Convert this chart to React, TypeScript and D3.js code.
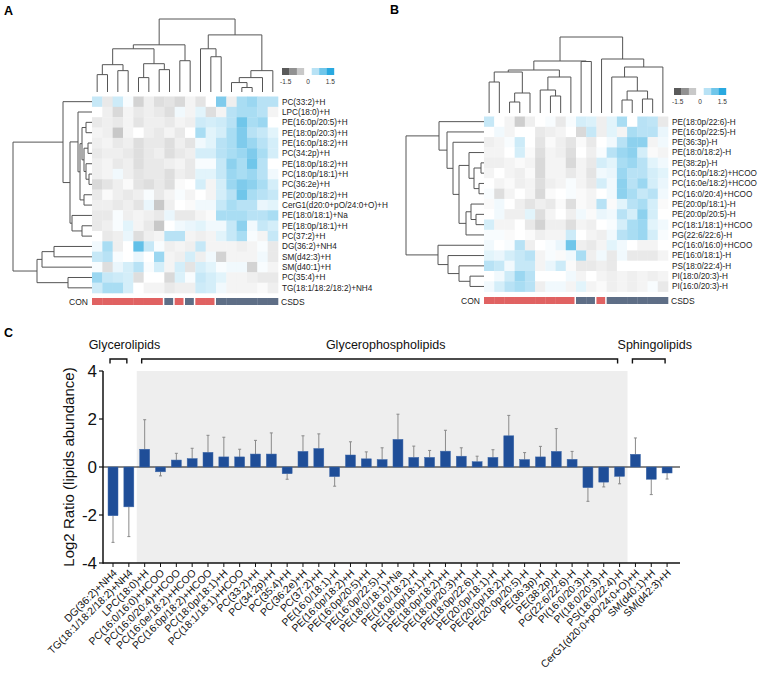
import React from 'react';
import * as d3 from 'd3';

type Tree = number | [number, Tree, Tree];

const FONT = '"Liberation Sans", Arial, Helvetica, sans-serif';

// ---------------- Panel A data ----------------
const rowLabelsA = [
  'PC(33:2)+H', 'LPC(18:0)+H', 'PE(16:0p/20:5)+H', 'PE(18:0p/20:3)+H', 'PE(16:0p/18:2)+H',
  'PC(34:2p)+H', 'PE(18:0p/18:2)+H', 'PC(18:0p/18:1)+H', 'PC(36:2e)+H', 'PE(20:0p/18:2)+H',
  'CerG1(d20:0+pO/24:0+O)+H', 'PE(18:0/18:1)+Na', 'PE(18:0p/18:1)+H', 'PC(37:2)+H',
  'DG(36:2)+NH4', 'SM(d42:3)+H', 'SM(d40:1)+H', 'PC(35:4)+H', 'TG(18:1/18:2/18:2)+NH4',
];
const groupsA = ['CON', 'CON', 'CON', 'CON', 'CON', 'CON', 'CON', 'CSDS', 'CON', 'CSDS', 'CON', 'CON',
  'CSDS', 'CSDS', 'CSDS', 'CSDS', 'CSDS', 'CSDS'];
const heatA = [
  [0.4, -0.2, 0.35, 0.05, -0.4, -0.15, -0.3, -0.25, -0.35, -0.1, -0.25, 0, 0.9, -0.15, 0.6, 0.7, 0.5, 0.5],
  [0, -0.15, -0.35, -0.1, -0.2, -0.15, -0.2, -0.3, 0.1, -0.1, 0.2, -0.3, -0.1, 0.5, 0.6, 0.6, 0.5, -0.1],
  [-0.2, -0.15, -0.2, -0.1, -0.25, -0.15, -0.15, -0.2, -0.1, -0.15, 0.35, 0.3, 0.35, 0.5, 1.0, 0.6, 0.7, 0],
  [-0.1, -0.15, -0.5, -0.1, 0, -0.15, -0.2, -0.1, -0.2, 0, 0.6, 0.2, 0.3, 0.6, 0.9, 0.5, 0.4, 0.2],
  [-0.15, -0.1, -0.2, -0.15, -0.3, -0.2, -0.2, -0.3, -0.15, -0.25, 0.1, 0.2, 0.5, 0.6, 0.9, 0.7, 0.5, 0.3],
  [-0.2, -0.15, -0.15, -0.2, -0.3, -0.2, -0.15, -0.3, -0.2, -0.15, 0.3, 0.3, 0.5, 0.6, 0.7, 0.9, 0.6, 0.3],
  [-0.15, -0.1, -0.2, -0.15, -0.3, -0.2, -0.2, -0.15, -0.1, -0.2, 0.05, 0.05, 0.4, 0.8, 0.6, 1.0, 0.5, 0],
  [-0.15, -0.1, 0.1, -0.15, -0.25, -0.2, -0.2, -0.3, -0.15, -0.2, 0.2, 0.2, 0.4, 0.7, 0.6, 0.7, 0.5, 0.1],
  [-0.35, -0.25, -0.15, -0.05, -0.25, -0.3, -0.2, -0.3, -0.05, 0, 0.3, -0.1, 0.3, 0.7, 0.9, 0.8, 0.6, 0.3],
  [-0.2, -0.05, -0.15, -0.2, -0.15, 0.05, -0.2, -0.1, 0.05, -0.1, 0, -0.1, 0.3, 0.5, 1.0, 0.6, 0.5, 0.4],
  [-0.15, -0.15, -0.2, -0.15, -0.25, 0.15, -0.5, -0.15, 0, -0.05, 0.1, 0.1, 0.4, 0.6, 0.5, 0.5, 0.15, 0.2],
  [-0.2, -0.2, 0.05, -0.15, -0.1, -0.15, -0.2, 0.15, -0.2, -0.2, -0.1, -0.05, 0.6, 0.6, 0.6, 0.5, 0.5, 0.6],
  [-0.2, -0.15, 0.05, 0.2, -0.1, -0.2, -0.5, 0, 0.1, 0.15, 0.2, 0.1, 0.1, 0.4, 0.8, 0.1, 0.4, 0.3],
  [0, -0.2, -0.15, 0.15, -0.3, -0.15, -0.1, 0.5, 0.5, -0.1, -0.15, -0.1, 0.2, 0.4, 0.6, 0.05, -0.1, 0.4],
  [0.1, 0.6, -0.15, 0, 1.1, 0.4, 0.05, -0.15, -0.1, -0.15, 0.4, -0.1, -0.1, -0.1, -0.15, -0.1, 0.05, -0.2],
  [0.4, 0.5, 0.05, 0, 0.15, 0, 0.7, -0.1, -0.15, 0.3, -0.15, 0.1, -0.4, -0.1, -0.1, -0.1, 0.1, -0.2],
  [0.05, -0.3, 0.15, 0.3, 0.5, 0.05, 0.3, -0.1, 0.3, -0.25, 0.3, 0.2, 0.05, 0.1, 0.1, -0.4, 0.05, -0.1],
  [0.7, 0.4, 0.35, 0.3, -0.3, 0, 0, -0.35, 0.25, 0.05, 0.4, 0.3, 0.2, -0.1, -0.1, -0.15, -0.2, -0.2],
  [0.35, 0.6, 0.6, 0.3, 0, -0.1, -0.1, -0.2, -0.15, -0.15, 0.35, 0.3, 0.1, -0.1, -0.1, -0.1, -0.05, -0.15],
];
const colTreeA: Tree = [73.5,
  [47.5,
    [43.5, [27.5, [17.5, 0, 1], [21.5, 2, 3]], [28.5, [14.5, 4, 5], [22.5, 6, 7]]],
    [31.5, 8, 9]],
  [57.5,
    [43.5, 10, [35.5, 11, 12]],
    [21.5, [14.5, [9.5, 13, [4.5, 14, 15]], 16], 17]]];
const rowTreeA: Tree = [79,
  [29, 0, [22, [14, 1, [12, [10, [6, 2, 3], [8, [4, 4, 5], [6, 6, [3, 7, 8]]]], [8, 9, 10]]], [20, 11, [10, 12, 13]]]],
  [55, [50, [38, 14, 15], 16], [24, 17, 18]]];

// ---------------- Panel B data ----------------
const rowLabelsB = [
  'PE(18:0p/22:6)-H', 'PE(16:0p/22:5)-H', 'PE(36:3p)-H', 'PE(18:0/18:2)-H', 'PE(38:2p)-H',
  'PC(16:0p/18:2)+HCOO', 'PC(16:0e/18:2)+HCOO', 'PC(16:0/20:4)+HCOO', 'PE(20:0p/18:1)-H',
  'PE(20:0p/20:5)-H', 'PC(18:1/18:1)+HCOO', 'PG(22:6/22:6)-H', 'PC(16:0/16:0)+HCOO',
  'PE(16:0/18:1)-H', 'PS(18:0/22:4)-H', 'PI(18:0/20:3)-H', 'PI(16:0/20:3)-H',
];
const groupsB = ['CON', 'CON', 'CON', 'CON', 'CON', 'CON', 'CON', 'CON', 'CON', 'CSDS', 'CSDS', 'CON',
  'CSDS', 'CSDS', 'CSDS', 'CSDS', 'CSDS', 'CSDS'];
const heatB = [
  [0.4, 0, -0.1, -0.45, -0.15, 0, 0.05, -0.2, 0.05, 0.3, 0.25, -0.15, 0.2, 0.6, 0, 0.5, 0.45, -0.2],
  [0, 0.1, -0.1, 0, 0, -0.2, -0.15, -0.1, 0, -0.35, 0.4, -0.15, 0.2, -0.1, 0.6, 0.5, 0.5, 0.15],
  [-0.15, -0.1, 0.05, 0.35, 0, -0.25, -0.05, -0.15, -0.25, -0.05, -0.2, 0, 0.1, 0.5, 0.8, 0.8, -0.1, 0.1],
  [-0.1, -0.1, 0, 0.3, -0.05, -0.3, -0.1, -0.15, -0.3, 0, -0.15, 0.05, 0.5, 0.7, 0.8, 0.3, -0.05, -0.1],
  [-0.15, -0.15, -0.1, -0.05, -0.1, -0.35, -0.1, -0.1, -0.35, -0.1, -0.2, 0.3, 0.2, 0.6, 0.7, 0.5, 0.2, 0.1],
  [-0.1, 0, -0.1, -0.15, -0.05, -0.35, -0.1, -0.1, -0.2, -0.1, -0.25, 0.1, 0.15, 0.7, 0.5, 0.5, 0.3, 0.2],
  [0, -0.1, -0.05, -0.15, -0.1, -0.3, -0.15, -0.1, 0.05, -0.1, -0.2, 0.3, 0.1, 0.8, 0.5, 0.7, 0.3, 0.15],
  [0.05, -0.3, -0.1, 0, -0.1, -0.35, -0.05, 0, 0.05, -0.05, -0.1, 0, 0.1, 0.8, 0.6, 0.4, 0.5, 0.1],
  [-0.05, 0.1, 0, -0.15, -0.25, -0.15, -0.2, -0.05, -0.3, -0.05, -0.1, 0.5, -0.05, 0.2, 0.5, 0.6, 0.3, -0.05],
  [0, 0.1, -0.15, -0.15, 0.2, -0.3, -0.1, 0, -0.15, 0.1, -0.05, 0.15, 0.1, 0.5, 0.3, 0.8, 0.3, 0],
  [0.3, -0.1, -0.1, 0, -0.2, -0.4, -0.15, -0.15, -0.3, -0.1, -0.15, 0, 0.05, 0.3, 0.6, 0.7, 0.2, 0.1],
  [0.05, 0.05, -0.05, 0, -0.05, -0.15, -0.1, -0.1, 0.35, 0, -0.1, -0.15, 0.1, 0.5, 0.6, 0.7, 0.3, 0.05],
  [0.1, 0, 0.05, 0.5, -0.15, 0, 0.05, 0.15, 1.0, -0.15, -0.2, -0.1, 0.2, 0.1, 0, -0.1, -0.1, 0],
  [0.2, 0.15, 0.3, 0.4, 0.5, -0.1, 0.05, -0.05, 0.1, 0.6, -0.15, 0.1, -0.2, 0.1, -0.2, -0.2, -0.2, -0.1],
  [0.5, 0.4, 0.1, 0.4, 0.4, -0.1, 0.15, 0.35, -0.05, -0.2, -0.2, -0.15, -0.2, 0, 0, 0, 0, 0],
  [0, 0.1, 0.35, 0.7, 0.5, 0, 0, 0, 0.1, -0.1, 0, -0.1, -0.15, -0.1, -0.15, -0.1, -0.15, -0.1],
  [0.1, 0.3, 0.5, 0.6, 0.5, -0.15, 0.1, 0.1, -0.1, 0.2, -0.1, -0.05, -0.15, -0.1, -0.15, -0.1, 0.05, -0.2],
];
const colTreeB: Tree = [76,
  [52, [43, [41, [31, 0, 1], [20, [11, 2, 3], 4]], [36, [23, 5, [17, 6, 7]], 8]], [51.5, 9, 10]],
  [54, 11, [46, [36, 12, [22, [13, 13, 14], [14, 15, 16]]], 17]]];
const rowTreeB: Tree = [78,
  [45, 0, [37, 1, [31, 2, [25, [15, 3, [10, [3, 4, 5], [5, 6, 7]]], [18, [13, 8, [8, 9, 10]], 11]]]]],
  [46, 12, [36, 13, [25, 14, [14, 15, 16]]]]];

const legendValues = [-1.5, -1, -0.5, 0, 0.5, 1, 1.5];
const legendTicks = [-1.5, 0, 1.5];

// ---------------- Panel C data ----------------
const lipids = [
  'DG(36:2)+NH4', 'TG(18:1/18:2/18:2)+NH4', 'LPC(18:0)+H', 'PC(16:0/16:0)+HCOO', 'PC(16:0/20:4)+HCOO',
  'PC(16:0e/18:2)+HCOO', 'PC(16:0p/18:2)+HCOO', 'PC(18:0p/18:1)+H', 'PC(18:1/18:1)+HCOO', 'PC(33:2)+H',
  'PC(34:2p)+H', 'PC(35:4)+H', 'PC(36:2e)+H', 'PC(37:2)+H', 'PE(16:0/18:1)-H', 'PE(16:0p/18:2)+H',
  'PE(16:0p/20:5)+H', 'PE(16:0p/22:5)-H', 'PE(18:0/18:1)+Na', 'PE(18:0/18:2)-H', 'PE(18:0p/18:1)+H',
  'PE(18:0p/18:2)+H', 'PE(18:0p/20:3)+H', 'PE(18:0p/22:6)-H', 'PE(20:0p/18:1)-H', 'PE(20:0p/18:2)+H',
  'PE(20:0p/20:5)-H', 'PE(36:3p)-H', 'PE(38:2p)-H', 'PG(22:6/22:6)-H', 'PI(16:0/20:3)-H',
  'PI(18:0/20:3)-H', 'PS(18:0/22:4)-H', 'CerG1(d20:0+pO/24:0+O)+H', 'SM(d40:1)+H', 'SM(d42:3)+H',
];
const log2Ratio = [
  -2.03, -1.66, 0.74, -0.2, 0.29, 0.35, 0.61, 0.42, 0.42, 0.54, 0.54, -0.28, 0.65, 0.77, -0.4, 0.5,
  0.34, 0.31, 1.15, 0.4, 0.4, 0.66, 0.45, 0.22, 0.4, 1.3, 0.31, 0.42, 0.65, 0.32, -0.86, -0.63, -0.39,
  0.53, -0.51, -0.25,
];
const errorTip = [
  -3.14, -2.9, 1.97, -0.37, 0.57, 0.78, 1.32, 1.24, 0.74, 1.11, 1.42, -0.51, 1.3, 1.38, -0.8, 1.05,
  0.63, 0.8, 2.2, 0.87, 0.69, 1.53, 0.8, 0.45, 0.72, 2.15, 0.6, 0.86, 1.6, 0.65, -1.43, -0.83, -0.7,
  1.21, -1.15, -0.5,
];
const classNames = ['Glycerolipids', 'Glycerophospholipids', 'Sphingolipids'];
const classFirst = [0, 2, 33];
const classLast = [1, 32, 35];
const shadedClass = 1;
const yTicks = [-4, -2, 0, 2, 4];

const color = d3.scaleLinear<string>().domain([-1.5, 0, 1.5]).range(['#5a5a5a', '#ffffff', '#29a9e0']).clamp(true);
const groupColor: Record<string, string> = { CON: '#e06262', CSDS: '#5e6e86' };

function layoutTree(t: Tree) {
  const root = d3.hierarchy<Tree>(t, (d) => (Array.isArray(d) ? [d[1], d[2]] : null));
  root.eachAfter((n: any) => {
    if (n.children) {
      n.pos = d3.mean(n.children, (c: any) => c.pos);
      n.h = (n.data as any)[0];
    } else {
      n.pos = n.data as number;
      n.h = 0;
    }
  });
  return root as any;
}

function dendroPaths(t: Tree, posScale: (v: number) => number, hScale: (v: number) => number, vertical: boolean) {
  const root = layoutTree(t);
  const paths: string[] = [];
  root.each((n: any) => {
    if (!n.children) return;
    const [a, b] = n.children;
    const p = (pos: number, h: number) => (vertical ? `${posScale(pos)},${hScale(h)}` : `${hScale(h)},${posScale(pos)}`);
    paths.push(`M${p(a.pos, a.h)}L${p(a.pos, n.h)}L${p(b.pos, n.h)}L${p(b.pos, b.h)}`);
  });
  return paths;
}

interface HeatProps {
  label: string; labelX: number; labelY: number;
  values: number[][]; rows: string[]; groups: string[]; colTree: Tree; rowTree: Tree;
  left: number; right: number; top: number; bottom: number;
  colLeafY: number; colRootY: number; rowRootX: number;
  groupY: number; legendX: number; legendY: number;
}

function Heatmap(p: HeatProps) {
  const nCols = p.values[0].length;
  const nRows = p.values.length;
  const xb = d3.scaleBand<number>().domain(d3.range(nCols)).range([p.left, p.right]);
  const yb = d3.scaleBand<number>().domain(d3.range(nRows)).range([p.top, p.bottom]);
  const colPos = d3.scaleLinear().domain([-0.5, nCols - 0.5]).range([p.left, p.right]);
  const rowPos = d3.scaleLinear().domain([-0.5, nRows - 0.5]).range([p.top, p.bottom]);
  const colRootH = (p.colTree as any)[0];
  const rowRootH = (p.rowTree as any)[0];
  const colH = d3.scaleLinear().domain([0, colRootH]).range([p.colLeafY, p.colRootY]);
  const rowH = d3.scaleLinear().domain([0, rowRootH]).range([p.left, p.rowRootX]);
  const colPaths = dendroPaths(p.colTree, colPos, colH, true);
  const rowPaths = dendroPaths(p.rowTree, rowPos, rowH, false);
  const lw = 52 / legendValues.length;
  const lx = d3.scaleBand<number>().domain(legendValues).range([p.legendX, p.legendX + 52]);
  return (
    <g fontFamily={FONT}>
      <text x={p.labelX} y={p.labelY} fontSize={12.5} fontWeight="bold">{p.label}</text>
      {p.values.map((row, r) =>
        row.map((v, c) => (
          <rect key={`${r}-${c}`} x={xb(c)} y={yb(r)} width={xb.bandwidth() + 0.3} height={yb.bandwidth() + 0.3} fill={color(v)} />
        ))
      )}
      {colPaths.map((d, i) => <path key={`c${i}`} d={d} fill="none" stroke="#555" strokeWidth={1} />)}
      {rowPaths.map((d, i) => <path key={`r${i}`} d={d} fill="none" stroke="#555" strokeWidth={1} />)}
      {p.rows.map((t, r) => (
        <text key={t} x={p.right + 4} y={(yb(r) as number) + yb.bandwidth() / 2} dy="0.35em" fontSize={8.2} fill="#222">{t}</text>
      ))}
      {p.groups.map((g, c) => {
        const gap = c < nCols - 1 && p.groups[c + 1] !== g ? 1.5 : 0;
        return <rect key={`g${c}`} x={xb(c)} y={p.groupY} width={xb.bandwidth() - gap + (gap ? 0 : 0.3)} height={7} fill={groupColor[g]} />;
      })}
      <text x={p.left - 4} y={p.groupY + 7} fontSize={8.5} textAnchor="end" fill="#222">CON</text>
      <text x={p.right + 3} y={p.groupY + 7} fontSize={8.5} fill="#222">CSDS</text>
      {legendValues.map((v) => (
        <rect key={`l${v}`} x={lx(v)} y={p.legendY} width={lw + 0.2} height={7} fill={color(v)} />
      ))}
      {legendTicks.map((v) => (
        <text key={`lt${v}`} x={(lx(v) as number) + lw / 2} y={p.legendY + 16} fontSize={6.5} textAnchor="middle" fill="#333">{v}</text>
      ))}
    </g>
  );
}

function BarChart() {
  const x = d3.scaleBand<string>().domain(lipids).range([105.1, 675]).paddingInner(0.37).paddingOuter(0.185);
  const y = d3.scaleLinear().domain([-4, 4]).range([563, 371]);
  const cx = (i: number) => (x(lipids[i]) as number) + x.bandwidth() / 2;
  const step = x.step();
  const axisX = 103;
  const axisEnd = 680;
  return (
    <g fontFamily={FONT}>
      <text x={4} y={337} fontSize={12.5} fontWeight="bold">C</text>
      <rect x={cx(classFirst[shadedClass]) - step / 2} y={y(4)} width={cx(classLast[shadedClass]) - cx(classFirst[shadedClass]) + step}
        height={y(-4) - y(4)} fill="#eeeeee" />
      {classNames.map((name, k) => {
        const x0 = cx(classFirst[k]) - 3;
        const x1 = cx(classLast[k]) - 2;
        return (
          <g key={name}>
            <path d={`M${x0},363.5V359H${x1}V363.5`} fill="none" stroke="#111" strokeWidth={1.4} />
            <text x={(x0 + x1) / 2 + 6} y={349} fontSize={12.5} textAnchor="middle" fill="#111">{name}</text>
          </g>
        );
      })}
      <line x1={axisX} x2={axisEnd} y1={y(0)} y2={y(0)} stroke="#111" strokeWidth={1} />
      {log2Ratio.map((v, i) => (
        <g key={lipids[i]}>
          <line x1={cx(i)} x2={cx(i)} y1={y(v)} y2={y(errorTip[i])} stroke="#8a8a8a" strokeWidth={1} />
          <line x1={cx(i) - 1.5} x2={cx(i) + 1.5} y1={y(errorTip[i])} y2={y(errorTip[i])} stroke="#8a8a8a" strokeWidth={1} />
          <rect x={x(lipids[i])} y={Math.min(y(v), y(0))} width={x.bandwidth()} height={Math.abs(y(v) - y(0))}
            fill="#1f4e98" stroke="#3d67a8" strokeWidth={0.5} />
        </g>
      ))}
      <line x1={axisX} x2={axisX} y1={y(4)} y2={y(-4) + 0.7} stroke="#111" strokeWidth={1.5} />
      <line x1={axisX} x2={axisEnd} y1={y(-4)} y2={y(-4)} stroke="#111" strokeWidth={1.5} />
      {yTicks.map((t) => (
        <g key={t}>
          <line x1={axisX - 4} x2={axisX} y1={y(t)} y2={y(t)} stroke="#111" strokeWidth={1.2} />
          <text x={97} y={y(t)} dy="0.35em" fontSize={17} textAnchor="end" fill="#111">{t}</text>
        </g>
      ))}
      {lipids.map((l, i) => (
        <g key={`t${l}`}>
          <line x1={cx(i)} x2={cx(i)} y1={y(-4)} y2={y(-4) + 4} stroke="#111" strokeWidth={1} />
          <text transform={`translate(${cx(i) + 2},${y(-4) + 8}) rotate(-45)`} dy="0.35em" fontSize={10.4} textAnchor="end" fill="#111">{l}</text>
        </g>
      ))}
      <text transform={`translate(74,${y(0)}) rotate(-90)`} fontSize={15} textAnchor="middle" fill="#111">Log2 Ratio (lipids abundance)</text>
    </g>
  );
}

export default function App() {
  return (
    <svg width={763} height={674} style={{ position: 'absolute', left: 0, top: 0, background: '#fff' }}>
      <rect width={763} height={674} fill="#fff" />
      <Heatmap label="A" labelX={4} labelY={15} values={heatA} rows={rowLabelsA} groups={groupsA}
        colTree={colTreeA} rowTree={rowTreeA} left={92} right={278} top={96.5} bottom={293}
        colLeafY={92} colRootY={19} rowRootX={13} groupY={298} legendX={282} legendY={68} />
      <Heatmap label="B" labelX={390} labelY={14} values={heatB} rows={rowLabelsB} groups={groupsB}
        colTree={colTreeB} rowTree={rowTreeB} left={484} right={668} top={116.5} bottom={291.6}
        colLeafY={113} colRootY={37} rowRootX={406} groupY={297} legendX={674} legendY={88} />
      <BarChart />
    </svg>
  );
}
